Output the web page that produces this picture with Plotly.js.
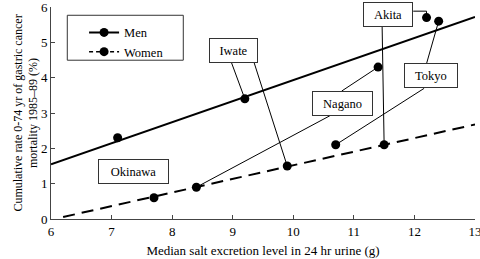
<!DOCTYPE html>
<html>
<head>
<meta charset="utf-8">
<script src="https://cdn.plot.ly/plotly-3.0.1.min.js"></script>
<style>
  html, body { margin: 0; padding: 0; background: #fff; }
  #chart { width: 480px; height: 259px; }
</style>
</head>
<body>
<div id="chart"></div>
<script>
// Prefectures and their median 24 h urinary salt vs. cumulative gastric cancer mortality
const prefectures = ['Okinawa', 'Iwate', 'Nagano', 'Akita', 'Tokyo'];
const menSalt   = [7.1, 9.2, 11.4, 12.2, 12.4];
const menRate   = [2.3, 3.4, 4.3, 5.7, 5.6];
const womenSalt = [7.7, 9.9, 8.4, 11.5, 10.7];
const womenRate = [0.6, 1.5, 0.9, 2.1, 2.1];

// Regression lines: [intercept, slope] and the x span each is drawn over
const menFit   = [-2.026, 0.596];
const womenFit = [-2.33, 0.385];
const menFitSpan   = [6, 13];
const womenFitSpan = [6.2, 13];

const xTicks = [6, 7, 8, 9, 10, 11, 12, 13];
const yTicks = [0, 1, 2, 3, 4, 5, 6];

const FONT = 'Liberation Serif';

function fitLine(fit, span) {
  return { x: span, y: span.map(v => fit[0] + fit[1] * v) };
}
const menLine = fitLine(menFit, menFitSpan);
const womenLine = fitLine(womenFit, womenFitSpan);

// Label boxes (centre in data units, box width in px) and where leader lines leave them
const labelPlacement = {
  Okinawa: { x: 7.366, y: 1.331, w: 71 },
  Iwate:   { x: 9.017, y: 4.756, w: 49, men: [8.982, 4.415], women: [9.355, 4.415] },
  Nagano:  { x: 10.805, y: 3.272, w: 61, men: [10.80, 3.622], women: [10.604, 2.922] },
  Akita:   { x: 11.566, y: 5.79, w: 50, menElbow: [11.98, 5.882], women: [11.467, 5.44] },
  Tokyo:   { x: 12.276, y: 4.048, w: 54, men: [12.2, 4.398], women: [12.16, 3.697] }
};

const traces = [
  { x: menLine.x, y: menLine.y, mode: 'lines', line: { color: '#000', width: 2 },
    showlegend: false, hoverinfo: 'skip' },
  { x: womenLine.x, y: womenLine.y, mode: 'lines',
    line: { color: '#000', width: 2, dash: '12px,7px' }, showlegend: false, hoverinfo: 'skip' },
  { x: menSalt, y: menRate, mode: 'markers', text: prefectures,
    marker: { color: '#000', size: 9 }, showlegend: false },
  { x: womenSalt, y: womenRate, mode: 'markers', text: prefectures,
    marker: { color: '#000', size: 9 }, showlegend: false },
  // legend entries
  { x: [null], y: [null], name: 'Men', mode: 'lines+markers',
    line: { color: '#000', width: 2 }, marker: { color: '#000', size: 9 } },
  { x: [null], y: [null], name: 'Women', mode: 'lines+markers',
    line: { color: '#000', width: 1.5, dash: '4px,3px' }, marker: { color: '#000', size: 9 } }
];

const shapes = [];
const annotations = [];
prefectures.forEach((name, i) => {
  const p = labelPlacement[name];
  annotations.push({
    x: p.x, y: p.y, xref: 'x', yref: 'y', text: name, showarrow: false,
    font: { family: FONT, size: 12.5, color: '#000' },
    bgcolor: '#fff', bordercolor: '#333', borderwidth: 1, borderpad: 0,
    width: p.w - 2, height: 23
  });
  const leader = { type: 'line', xref: 'x', yref: 'y', layer: 'below',
                   line: { color: '#000', width: 1 } };
  if (p.men) {
    shapes.push(Object.assign({}, leader, { x0: p.men[0], y0: p.men[1], x1: menSalt[i], y1: menRate[i] }));
  }
  if (p.menElbow) {
    shapes.push({ type: 'path', xref: 'x', yref: 'y', layer: 'below', line: { color: '#000', width: 1 },
      path: `M ${p.menElbow[0]},${p.menElbow[1]} L ${menSalt[i]},${p.menElbow[1]} L ${menSalt[i]},${menRate[i]}` });
  }
  if (p.women) {
    shapes.push(Object.assign({}, leader, { x0: p.women[0], y0: p.women[1], x1: womenSalt[i], y1: womenRate[i] }));
  }
});

// legend frame
shapes.push({ type: 'rect', xref: 'paper', yref: 'paper',
  x0: 0.0384, x1: 0.312, y0: 0.749, y1: 0.961,
  line: { color: '#333', width: 1 }, fillcolor: 'rgba(0,0,0,0)' });

const axisCommon = {
  showgrid: false, zeroline: false, showline: true, linecolor: '#444', linewidth: 1,
  ticks: 'inside', ticklen: 4, tickwidth: 1, tickcolor: '#444',
  ticklabeloverflow: 'allow',
  tickfont: { family: FONT, size: 13, color: '#000' }, fixedrange: true
};

const layout = {
  width: 480, height: 259,
  margin: { l: 51, r: 5, t: 7, b: 40 },
  paper_bgcolor: '#fff', plot_bgcolor: '#fff',
  font: { family: FONT, color: '#000' },
  showlegend: true,
  legend: {
    x: 0.078, y: 0.949, xanchor: 'left', yanchor: 'top',
    bgcolor: 'rgba(0,0,0,0)', borderwidth: 0,
    font: { family: FONT, size: 12.5, color: '#000' }, itemwidth: 30
  },
  xaxis: Object.assign({}, axisCommon, {
    range: [6, 13], tickvals: xTicks, ticktext: xTicks.map(String),
    title: { text: 'Median salt excretion level in 24 hr urine (g)',
             font: { family: FONT, size: 13, color: '#000' }, standoff: 8 }
  }),
  yaxis: Object.assign({}, axisCommon, {
    range: [0, 6], tickvals: yTicks, ticktext: yTicks.map(String),
    title: { text: 'Cumulative rate 0-74 yr of gastric cancer<br>mortality 1985\u201389 (%)',
             font: { family: FONT, size: 12, color: '#000' }, standoff: 0 }
  }),
  shapes: shapes,
  annotations: annotations
};

Plotly.newPlot('chart', traces, layout, { displayModeBar: false, staticPlot: true });
</script>
</body>
</html>
